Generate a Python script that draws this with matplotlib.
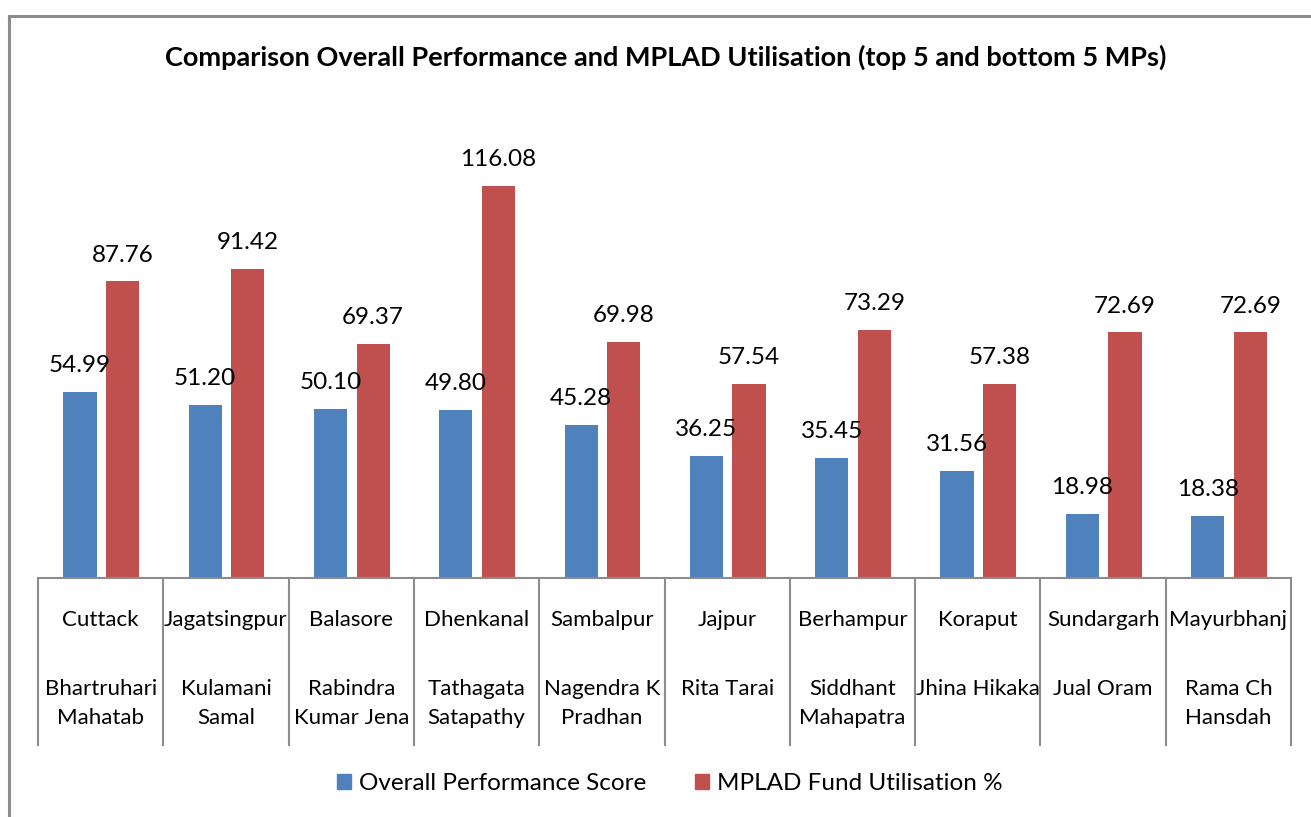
# Overall performance vs MPLAD fund utilisation, top 5 and bottom 5 MPs (Odisha)

import matplotlib.pyplot as plt
from matplotlib.lines import Line2D
from matplotlib.patches import Patch
from matplotlib.transforms import blended_transform_factory
import numpy as np

plt.rcParams['font.family'] = ['Lato', 'DejaVu Sans']

constituencies = ["Cuttack", "Jagatsingpur", "Balasore", "Dhenkanal", "Sambalpur",
                  "Jajpur", "Berhampur", "Koraput", "Sundargarh", "Mayurbhanj"]
mp_names = ["Bhartruhari\nMahatab", "Kulamani\nSamal", "Rabindra\nKumar Jena",
            "Tathagata\nSatapathy", "Nagendra K\nPradhan", "Rita Tarai",
            "Siddhant\nMahapatra", "Jhina Hikaka", "Jual Oram", "Rama Ch\nHansdah"]
performance = [54.99, 51.20, 50.10, 49.80, 45.28, 36.25, 35.45, 31.56, 18.98, 18.38]
mplad_util = [87.76, 91.42, 69.37, 116.08, 69.98, 57.54, 73.29, 57.38, 72.69, 72.69]

blue = "#4F81BD"
red = "#C0504D"
grey = "#8C8C8C"
W, H = 1311, 817

fig = plt.figure(figsize=(W / 100, H / 100), dpi=100)
ax = fig.add_axes([38 / W, 1 - 578 / H, (1291 - 38) / W, (578 - 105) / H])

x = np.arange(len(constituencies))
width = 0.265
ax.bar(x - 0.165, performance, width, color=blue)
ax.bar(x + 0.175, mplad_util, width, color=red)

for xi, v in zip(x, performance):
    ax.annotate(f"{v:.2f}", (xi - 0.165, v), xytext=(0, 19), textcoords="offset points",
                ha="center", va="center", fontsize=17.5)
for xi, v in zip(x, mplad_util):
    ax.annotate(f"{v:.2f}", (xi + 0.175, v), xytext=(0, 19), textcoords="offset points",
                ha="center", va="center", fontsize=17.5)

ax.set_xlim(-0.5, len(x) - 0.5)
ax.set_ylim(0, 140)
ax.set_xticks([])
ax.set_yticks([])
for side in ["left", "right", "top"]:
    ax.spines[side].set_visible(False)
ax.spines["bottom"].set_color(grey)
ax.spines["bottom"].set_linewidth(1.5)

# multi-level category axis
tr = blended_transform_factory(ax.transData, fig.transFigure)
for b in np.arange(len(x) + 1) - 0.5:
    ax.plot([b, b], [1 - 578 / H, 1 - 745 / H], color=grey, lw=1.5,
            transform=tr, clip_on=False)
for xi, c, n in zip(x, constituencies, mp_names):
    ax.text(xi, 1 - 620 / H, c, transform=tr, ha="center", va="center", fontsize=16)
    for k, line in enumerate(n.split("\n")):
        ax.text(xi, 1 - (689 + 29 * k) / H, line, transform=tr,
                ha="center", va="center", fontsize=16)

fig.text(666 / W, 1 - 57 / H,
         "Comparison Overall Performance and MPLAD Utilisation (top 5 and bottom 5 MPs)",
         ha="center", va="center", fontsize=19.5, fontweight="bold")

handles = [Patch(color=blue, label="Overall Performance Score"),
           Patch(color=red, label="MPLAD Fund Utilisation %")]
fig.legend(handles=handles, loc="center", bbox_to_anchor=(670 / W, 1 - 784 / H),
           ncol=2, frameon=False, fontsize=17.5, handlelength=0.58, handleheight=0.58,
           handletextpad=0.33, columnspacing=2.0)

# outer chart border (cut off at right and bottom)
fig.add_artist(Line2D([9 / W, 9 / W], [0, 1 - 16 / H], color=grey, lw=2.2,
                      transform=fig.transFigure))
fig.add_artist(Line2D([9 / W, 1], [1 - 16 / H, 1 - 16 / H], color=grey, lw=2.2,
                      transform=fig.transFigure))

fig.savefig("out.png", dpi=100)
